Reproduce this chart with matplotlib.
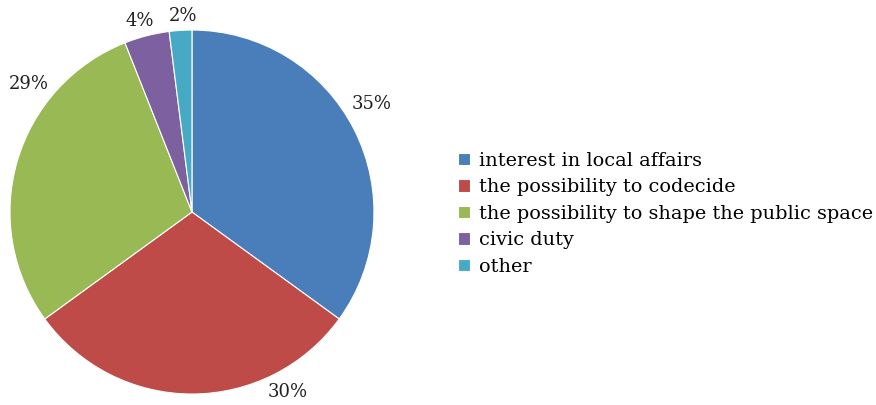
import numpy as np
import matplotlib
matplotlib.use("Agg")
import matplotlib.pyplot as plt

categories = [
    "interest in local affairs",
    "the possibility to codecide",
    "the possibility to shape the public space",
    "civic duty",
    "other",
]
shares = [35, 30, 29, 4, 2]
colors = ["#4A7EBB", "#BE4B48", "#98B954", "#7D60A0", "#46AAC5"]

# label placement nudges (degrees away from wedge middle, radial distance)
label_shift = [4, 28, -22, 1, -1]
label_dist = [1.15, 1.12, 1.14, 1.09, 1.08]

plt.rcParams["font.family"] = ["DejaVu Serif"]

fig = plt.figure(figsize=(8.76, 4.05), dpi=100)
ax = fig.add_axes([0.0114, 0.027, 0.4155, 0.899])

wedges, _ = ax.pie(
    shares,
    colors=colors,
    startangle=90,
    counterclock=False,
    wedgeprops={"linewidth": 0.8, "edgecolor": "white"},
)
ax.set_aspect("equal")
ax.set_xlim(-1, 1)
ax.set_ylim(-1, 1)

for w, val, shift, dist in zip(wedges, shares, label_shift, label_dist):
    ang = np.deg2rad((w.theta1 + w.theta2) / 2 + shift)
    ax.text(dist * np.cos(ang), dist * np.sin(ang), f"{val}%",
            ha="center", va="center", fontsize=13, color="#222222")

fig.legend(
    wedges, categories,
    loc="center left", bbox_to_anchor=(0.503, 0.472),
    frameon=False, fontsize=13.9,
    handlelength=0.64, handleheight=0.64, handletextpad=0.45,
    labelspacing=0.44,
)

fig.savefig("out.png", dpi=100)
